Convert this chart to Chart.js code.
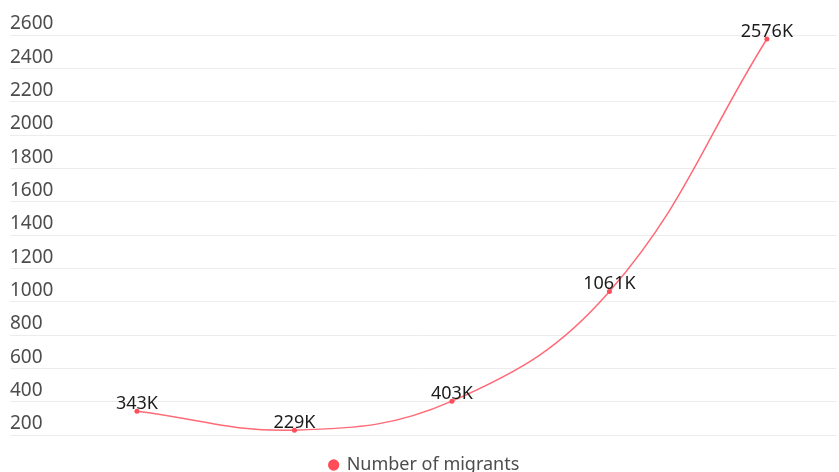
<!DOCTYPE html>
<html>
<head>
<meta charset="utf-8">
<script src="https://cdn.jsdelivr.net/npm/chart.js@4/dist/chart.umd.min.js"></script>
<style>
  html, body { margin: 0; padding: 0; background: #fff; }
  #wrap { width: 839px; height: 472px; }
</style>
</head>
<body>
<div id="wrap"><canvas id="c"></canvas></div>
<script>
// Migrant counts, in thousands
const seriesName = 'Number of migrants';
const migrants = [343, 229, 403, 1061, 2576];
const yTicks = [200, 400, 600, 800, 1000, 1200, 1400, 1600, 1800, 2000, 2200, 2400, 2600];

const lineColor = 'rgba(255, 80, 95, 0.85)';
const dotColor = '#ff4d5a';

// Writes "<value>K" just above each point
const valueLabels = {
  id: 'valueLabels',
  afterDatasetsDraw(chart) {
    const { ctx } = chart;
    const meta = chart.getDatasetMeta(0);
    ctx.save();
    ctx.font = '18px "Noto Sans"';
    ctx.fillStyle = '#1c1c1c';
    ctx.textAlign = 'center';
    ctx.textBaseline = 'alphabetic';
    meta.data.forEach((pt, i) => {
      ctx.fillText(migrants[i] + 'K', pt.x, pt.y - 2.5);
    });
    ctx.restore();
  }
};

new Chart(document.getElementById('c'), {
  type: 'line',
  data: {
    datasets: [{
      label: seriesName,
      data: migrants.map((v, i) => ({ x: i, y: v })),
      borderColor: lineColor,
      backgroundColor: dotColor,
      pointBackgroundColor: dotColor,
      pointBorderColor: dotColor,
      pointRadius: 2.5,
      pointBorderWidth: 0,
      pointHoverRadius: 2.5,
      pointHoverBorderWidth: 0,
      borderWidth: 1.5,
      tension: 0.4,
      fill: false
    }]
  },
  options: {
    responsive: true,
    maintainAspectRatio: false,
    animation: false,
    // legend sits close to the bottom edge
    layout: { padding: { left: 10, right: 0, top: 35, bottom: -12 } },
    scales: {
      x: {
        type: 'linear',
        min: -0.806,
        max: 4.442,
        border: { display: false },
        grid: { display: false },
        ticks: { display: false },
        // empty band between the plot and the legend
        afterFit(scale) { scale.height = 11; }
      },
      y: {
        min: 200,
        max: 2600,
        afterBuildTicks(scale) {
          scale.ticks = yTicks.map(v => ({ value: v }));
        },
        border: { display: false },
        grid: { color: '#ececec', lineWidth: 1, drawTicks: false },
        ticks: {
          mirror: true,
          padding: 0,
          labelOffset: -11,
          color: '#4d4d4d',
          font: { family: 'Noto Sans', size: 19 },
          callback: (v) => String(v)
        }
      }
    },
    plugins: {
      legend: {
        position: 'bottom',
        labels: {
          usePointStyle: true,
          pointStyle: 'circle',
          boxWidth: 8,
          boxHeight: 8,
          color: '#4d4d4d',
          font: { family: 'Noto Sans', size: 18 },
          padding: 10
        }
      },
      tooltip: { enabled: false }
    }
  },
  plugins: [valueLabels]
});
</script>
</body>
</html>
